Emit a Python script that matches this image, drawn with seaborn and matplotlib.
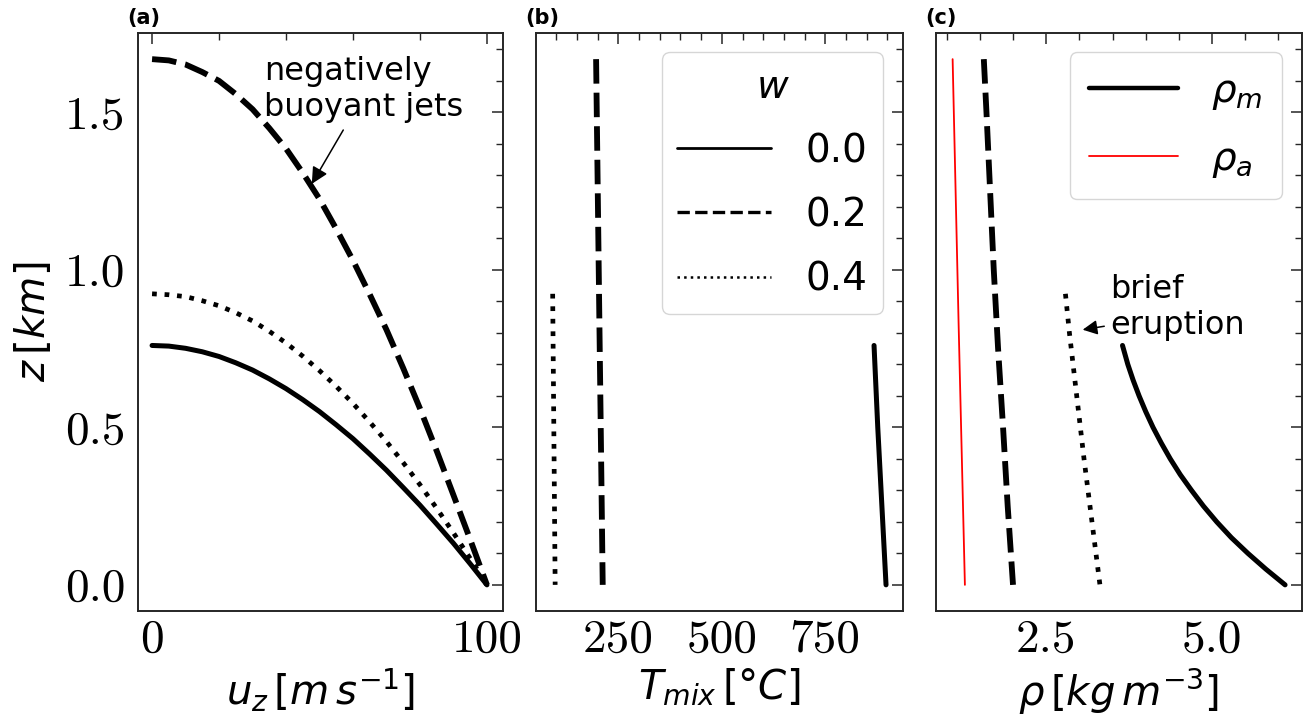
import numpy as np
import pandas as pd
import matplotlib
matplotlib.use("Agg")
import matplotlib.pyplot as plt
from matplotlib.lines import Line2D
from matplotlib.ticker import MultipleLocator, FixedLocator
import seaborn as sns

# ---------------- data ----------------
w_values = ["0.0", "0.2", "0.4"]

# panel (a): vertical velocity u_z [m/s] vs height z [km]
u_grid = [0, 5, 10, 15, 20, 25, 30, 35, 40, 45, 50,
          55, 60, 65, 70, 75, 80, 85, 90, 95, 100]
z_u_w00 = [0.760, 0.758, 0.751, 0.740, 0.725, 0.705, 0.682, 0.654, 0.623, 0.588, 0.550,
           0.508, 0.464, 0.415, 0.364, 0.309, 0.253, 0.193, 0.132, 0.067, 0.0]
z_u_w02 = [1.669, 1.665, 1.652, 1.628, 1.600, 1.558, 1.510, 1.450, 1.385, 1.308, 1.225,
           1.130, 1.030, 0.922, 0.810, 0.688, 0.560, 0.425, 0.285, 0.144, 0.0]
z_u_w04 = [0.924, 0.921, 0.915, 0.902, 0.886, 0.864, 0.838, 0.805, 0.768, 0.726, 0.680,
           0.630, 0.576, 0.517, 0.455, 0.388, 0.318, 0.243, 0.165, 0.084, 0.0]

# panel (b): mixture temperature T_mix [degC] vs z [km]
z_T_w00 = [0.76, 0.50, 0.25, 0.0]
T_w00 = [868, 877, 887, 897]
z_T_w02 = [1.669, 1.25, 0.83, 0.42, 0.0]
T_w02 = [196, 200, 204, 208, 212]
z_T_w04 = [0.924, 0.62, 0.31, 0.0]
T_w04 = [91, 93, 95, 97]

# panel (c): densities [kg m^-3] vs z [km]
z_r_w00 = [0.76, 0.70, 0.65, 0.60, 0.55, 0.50, 0.45, 0.40,
           0.35, 0.30, 0.25, 0.20, 0.15, 0.10, 0.05, 0.0]
rho_w00 = [3.65, 3.73, 3.81, 3.90, 4.00, 4.11, 4.235, 4.37,
           4.52, 4.69, 4.87, 5.07, 5.29, 5.54, 5.81, 6.10]
z_r_w02 = [1.669, 1.5, 1.25, 1.0, 0.75, 0.5, 0.25, 0.0]
rho_w02 = [1.56, 1.60, 1.655, 1.71, 1.775, 1.85, 1.92, 2.0]
z_r_w04 = [0.924, 0.8, 0.6, 0.4, 0.2, 0.0]
rho_w04 = [2.79, 2.85, 2.96, 3.07, 3.19, 3.31]
z_rho_a = [1.669, 0.83, 0.0]
rho_a = [1.09, 1.18, 1.275]

# ---------------- style ----------------
sns.set_style("white")
plt.rcParams["font.family"] = ["DejaVu Sans"]
plt.rcParams["mathtext.fontset"] = "dejavusans"
plt.rcParams["axes.edgecolor"] = "#262626"
plt.rcParams["axes.linewidth"] = 1.4
plt.rcParams["text.color"] = "black"
plt.rcParams["axes.labelcolor"] = "black"
plt.rcParams["xtick.color"] = "black"
plt.rcParams["ytick.color"] = "black"

styles = {
    "0.0": dict(linestyle="-", lw=3.6),
    "0.2": dict(linestyle=(0, (4.2, 1.55)), lw=4.2),
    "0.4": dict(linestyle=(0, (1.0, 1.65)), lw=3.4),
}

fig = plt.figure(figsize=(13.09, 7.2), dpi=100)
W, H = 1309, 720
bottom = 1 - 611 / H
height = (611 - 33) / H
ax_a = fig.add_axes([138 / W, bottom, 365 / W, height])
ax_b = fig.add_axes([536 / W, bottom, 366.7 / W, height], sharey=ax_a)
ax_c = fig.add_axes([936 / W, bottom, 365.7 / W, height], sharey=ax_a)


def draw(ax, x, y, key, color="k"):
    df = pd.DataFrame({"x": x, "y": y})
    sns.lineplot(data=df, x="x", y="y", ax=ax, sort=False, estimator=None,
                 color=color, **styles[key])


# (a)
draw(ax_a, u_grid, z_u_w00, "0.0")
draw(ax_a, u_grid, z_u_w02, "0.2")
draw(ax_a, u_grid, z_u_w04, "0.4")
# (b)
draw(ax_b, T_w00, z_T_w00, "0.0")
draw(ax_b, T_w02, z_T_w02, "0.2")
draw(ax_b, T_w04, z_T_w04, "0.4")
# (c)
draw(ax_c, rho_w00, z_r_w00, "0.0")
draw(ax_c, rho_w02, z_r_w02, "0.2")
draw(ax_c, rho_w04, z_r_w04, "0.4")
sns.lineplot(x=rho_a, y=z_rho_a, ax=ax_c, sort=False, estimator=None,
             color="red", lw=1.3)

ax_a.set_xlim(-4.2, 104.8)
ax_a.set_ylim(-0.083, 1.752)

tick_font = 34
label_font = 29
for ax in (ax_a, ax_b, ax_c):
    ax.tick_params(which="both", direction="in", top=True, right=True,
                   color="#262626", labelfontfamily="cmr10",
                   labelsize=tick_font)
    ax.tick_params(axis="y", pad=9)
    ax.tick_params(axis="x", pad=6)
    ax.tick_params(which="major", length=8, width=1.1)
    ax.tick_params(which="minor", length=5, width=1.0)
    ax.yaxis.set_major_locator(MultipleLocator(0.5))
    ax.yaxis.set_minor_locator(MultipleLocator(0.1))
    for s in ax.spines.values():
        s.set_visible(True)

ax_a.xaxis.set_major_locator(FixedLocator([0, 100]))
ax_a.xaxis.set_minor_locator(MultipleLocator(20))
ax_b.xaxis.set_major_locator(MultipleLocator(250))
ax_b.xaxis.set_minor_locator(MultipleLocator(50))
ax_c.xaxis.set_major_locator(MultipleLocator(2.5))
ax_c.xaxis.set_minor_locator(MultipleLocator(0.5))
ax_b.tick_params(labelleft=False)
ax_c.tick_params(labelleft=False)

ax_a.set_ylabel(r"$z\,[km]$", fontsize=label_font, labelpad=8)
ax_b.set_ylabel("")
ax_c.set_ylabel("")
ax_a.set_xlabel(r"$u_z\,[m\,s^{-1}]$", fontsize=label_font, labelpad=4)
ax_b.set_xlabel(r"$T_{mix}\,[°C]$", fontsize=label_font, labelpad=4)
ax_c.set_xlabel(r"$\rho\,[kg\,m^{-3}]$", fontsize=label_font, labelpad=4)

for ax, lab in zip((ax_a, ax_b, ax_c), ("(a)", "(b)", "(c)")):
    ax.text(-0.03, 1.008, lab, transform=ax.transAxes, fontsize=15,
            fontweight="bold", ha="left", va="bottom")

# legends
handles_w = [Line2D([], [], color="k", lw=2.0, linestyle="-"),
             Line2D([], [], color="k", lw=2.4, linestyle="--"),
             Line2D([], [], color="k", lw=1.8, linestyle=":")]
ax_b.legend(handles_w, w_values, title=r"$w$", loc="upper right",
            fontsize=28, title_fontsize=28, handlelength=2.4,
            labelspacing=0.67, handletextpad=0.9)
handles_r = [Line2D([], [], color="k", lw=3.2),
             Line2D([], [], color="red", lw=1.3)]
ax_c.legend(handles_r, [r"$\rho_m$", r"$\rho_a$"], loc="upper right",
            fontsize=28, handlelength=2.3, labelspacing=0.72,
            handletextpad=0.85, borderpad=0.5)

# annotations
ax_a.text(33.4, 1.489, "negatively\nbuoyant jets", fontsize=23,
          ha="left", va="baseline", linespacing=1.2)
ax_a.annotate("", xy=(47.7, 1.273), xytext=(57.1, 1.444),
              arrowprops=dict(arrowstyle="-|>", color="k", lw=1.1,
                              mutation_scale=25, shrinkA=0, shrinkB=0))
ax_c.text(3.47, 0.797, "brief\neruption", fontsize=23,
          ha="left", va="baseline", linespacing=1.2)
ax_c.annotate("", xy=(3.05, 0.81), xytext=(3.375, 0.821),
              arrowprops=dict(arrowstyle="-|>", color="k", lw=1.1,
                              mutation_scale=22, shrinkA=0, shrinkB=0))

fig.savefig("out.png", dpi=100)
